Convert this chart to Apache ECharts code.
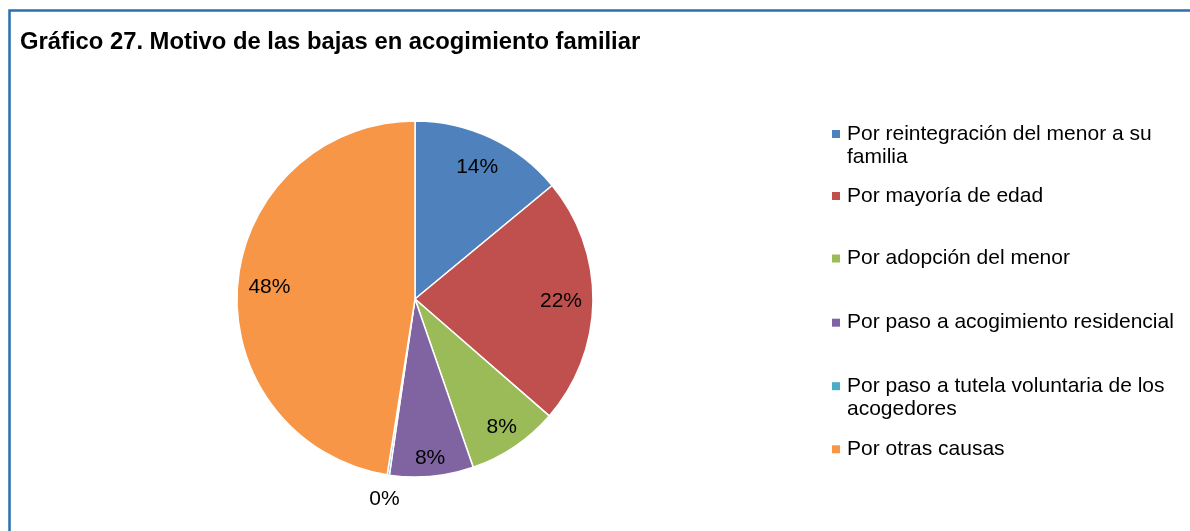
<!DOCTYPE html>
<html>
<head>
<meta charset="utf-8">
<script src="https://cdn.jsdelivr.net/npm/echarts@6/dist/echarts.min.js"></script>
<style>
html,body{margin:0;padding:0;background:#fff;}
#c{width:1190px;height:531px;}
</style>
</head>
<body>
<div id="c"></div>
<script>
const titleText = 'Gráfico 27. Motivo de las bajas en acogimiento familiar';
const categories = [
  'Por reintegración del menor a su familia',
  'Por mayoría de edad',
  'Por adopción del menor',
  'Por paso a acogimiento residencial',
  'Por paso a tutela voluntaria de los acogedores',
  'Por otras causas'
];
const legendText = [
  '\nPor reintegración del menor a su\nfamilia',
  'Por mayoría de edad',
  'Por adopción del menor',
  'Por paso a acogimiento residencial',
  '\nPor paso a tutela voluntaria de los\nacogedores',
  'Por otras causas'
];
const values = [14.0, 22.4, 8.3, 7.6, 0.2, 47.5];
const colors = ['#4f81bd', '#c0504d', '#9bbb59', '#8064a2', '#4bacc6', '#f79646'];

const FONT = "'Liberation Sans', Arial, sans-serif";
const CENTER = [415, 299];
const R = 178;
const legendTops = [99.5, 184.5, 247, 311.2, 351.7, 437.8];

function labelRing(r0, r1, showIdx) {
  return {
    type: 'pie',
    center: CENTER,
    radius: [r0, r1],
    startAngle: 90,
    clockwise: true,
    silent: true,
    animation: false,
    percentPrecision: 0,
    itemStyle: { color: 'rgba(0,0,0,0)', borderWidth: 0 },
    emphasis: { disabled: true },
    labelLine: { show: false },
    label: {
      show: true,
      position: 'inside',
      formatter: '{d}%',
      color: '#000',
      fontSize: 21,
      fontFamily: FONT
    },
    data: categories.map((n, i) => ({
      name: n,
      value: values[i],
      label: { show: showIdx.indexOf(i) >= 0 }
    }))
  };
}

const chart = echarts.init(document.getElementById('c'), null, { renderer: 'canvas' });
const option = {
  animation: false,
  backgroundColor: '#fff',
  color: colors,
  title: {
    text: titleText,
    left: 20,
    top: 30,
    padding: 0,
    textStyle: { fontSize: 23.8, fontWeight: 'bold', fontFamily: FONT, color: '#000' }
  },
  graphic: [{
    type: 'rect',
    z: -10,
    silent: true,
    shape: { x: 9.5, y: 10.5, width: 1400, height: 800 },
    style: { fill: 'none', stroke: '#2a6fb0', lineWidth: 2.5 }
  }],
  legend: categories.map((n, i) => ({
    data: [n],
    left: 832,
    top: legendTops[i],
    padding: 0,
    icon: 'rect',
    itemWidth: 8,
    itemHeight: 8,
    itemStyle: { borderWidth: 0 },
    selectedMode: false,
    formatter: () => legendText[i],
    textStyle: { fontSize: 21, lineHeight: 23, fontFamily: FONT, color: '#000', padding: [0, 0, 0, 2] }
  })),
  series: [
    {
      type: 'pie',
      center: CENTER,
      radius: R,
      startAngle: 90,
      clockwise: true,
      animation: false,
      percentPrecision: 0,
      emphasis: { disabled: true },
      label: { show: false },
      labelLine: { show: false },
      itemStyle: { borderColor: '#fff', borderWidth: 1.5 },
      data: categories.map((n, i) => ({ name: n, value: values[i] }))
    },
    labelRing(108, 178, [0, 1, 5]),
    labelRing(126, 178, [2]),
    labelRing(136, 178, [3]),
    labelRing(178, 222, [4])
  ]
};
chart.setOption(option);
</script>
</body>
</html>
